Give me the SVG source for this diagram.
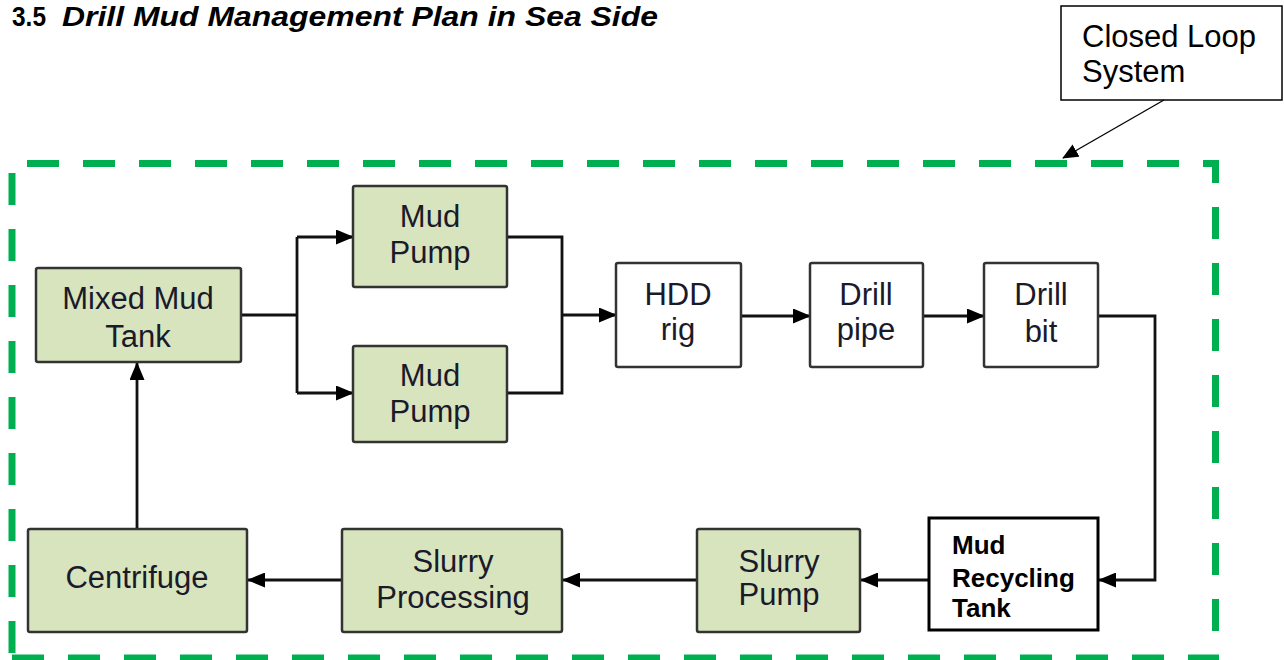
<svg xmlns="http://www.w3.org/2000/svg" width="1284" height="660" viewBox="0 0 1284 660">
  <style>
    .title { font-family: "Liberation Sans", Arial, sans-serif; font-weight: bold; font-size: 28px; fill: #000; }
    .proc { fill: #d7e4bd; stroke: #333; stroke-width: 2.5; }
    .plain { fill: #fff; stroke: #333; stroke-width: 2.5; }
    .lbl { font-family: "Liberation Sans", Arial, sans-serif; font-size: 31px; fill: #1a1a2a; text-anchor: middle; }
    .blbl { font-family: "Liberation Sans", Arial, sans-serif; font-size: 26px; font-weight: bold; fill: #000; }
    .note { font-family: "Liberation Sans", Arial, sans-serif; font-size: 31px; fill: #000; }
    .wire { fill: none; stroke: #111; stroke-width: 2.8; }
    .loop { fill: none; stroke: #00b050; stroke-width: 7; stroke-dasharray: 32 24; }
  </style>
  <defs>
    <marker id="head" markerUnits="userSpaceOnUse" markerWidth="18" markerHeight="15" refX="17" refY="7.5" orient="auto">
      <path d="M0,0 L18,7.5 L0,15 z" fill="#000"/>
    </marker>
    <marker id="thinHead" markerUnits="userSpaceOnUse" markerWidth="16" markerHeight="14" refX="15" refY="7" orient="auto">
      <path d="M0,0 L16,7 L0,14 z" fill="#000"/>
    </marker>
  </defs>

  <rect width="1284" height="660" fill="#fff"/>

  <!-- heading -->
  <text class="title" y="26"><tspan x="12" textLength="34" lengthAdjust="spacingAndGlyphs">3.5</tspan><tspan x="62" font-style="italic" textLength="596" lengthAdjust="spacingAndGlyphs">Drill Mud Management Plan in Sea Side</tspan></text>

  <!-- closed loop boundary -->
  <g id="loop-boundary">
    <line class="loop" x1="27" y1="163.5" x2="1219" y2="163.5"/>
    <line class="loop" x1="1215.5" y1="160" x2="1215.5" y2="660" stroke-dashoffset="9"/>
    <line class="loop" x1="12" y1="658" x2="1219" y2="658"/>
    <line class="loop" x1="12" y1="173" x2="12" y2="660"/>
  </g>

  <!-- callout -->
  <g id="closed-loop-note">
    <rect x="1061" y="6" width="221" height="94" fill="#fff" stroke="#000" stroke-width="1.5"/>
    <text class="note" x="1082" y="47">Closed Loop</text>
    <text class="note" x="1082" y="82">System</text>
    <line x1="1164" y1="100" x2="1063" y2="158" stroke="#000" stroke-width="1.3" marker-end="url(#thinHead)"/>
  </g>

  <!-- connectors -->
  <g id="connectors">
    <path class="wire" d="M241,315 H297"/>
    <path class="wire" d="M297,237 V393"/>
    <path class="wire" d="M297,237 H353" marker-end="url(#head)"/>
    <path class="wire" d="M297,393 H353" marker-end="url(#head)"/>
    <path class="wire" d="M507,237 H562 V393 H507"/>
    <path class="wire" d="M562,315 H616" marker-end="url(#head)"/>
    <path class="wire" d="M741,316 H810" marker-end="url(#head)"/>
    <path class="wire" d="M923,316 H984" marker-end="url(#head)"/>
    <path class="wire" d="M1098,316 H1155 V580 H1099" marker-end="url(#head)"/>
    <path class="wire" d="M929,580 H861" marker-end="url(#head)"/>
    <path class="wire" d="M697,580 H563" marker-end="url(#head)"/>
    <path class="wire" d="M342,580 H248" marker-end="url(#head)"/>
    <path class="wire" d="M137,529 V363" marker-end="url(#head)"/>
  </g>

  <!-- nodes -->
  <g id="mixed-mud-tank">
    <rect class="proc" x="36" y="268" width="205" height="94" rx="2"/>
    <text class="lbl" x="138" y="309">Mixed Mud</text>
    <text class="lbl" x="138" y="347">Tank</text>
  </g>
  <g id="mud-pump-1">
    <rect class="proc" x="353" y="186" width="154" height="101" rx="2"/>
    <text class="lbl" x="430" y="227">Mud</text>
    <text class="lbl" x="430" y="263">Pump</text>
  </g>
  <g id="mud-pump-2">
    <rect class="proc" x="353" y="346" width="154" height="96" rx="2"/>
    <text class="lbl" x="430" y="386">Mud</text>
    <text class="lbl" x="430" y="422">Pump</text>
  </g>
  <g id="hdd-rig">
    <rect class="plain" x="616" y="263" width="125" height="104" rx="2"/>
    <text class="lbl" x="678" y="305">HDD</text>
    <text class="lbl" x="678" y="340">rig</text>
  </g>
  <g id="drill-pipe">
    <rect class="plain" x="810" y="263" width="113" height="104" rx="2"/>
    <text class="lbl" x="866" y="305">Drill</text>
    <text class="lbl" x="866" y="340">pipe</text>
  </g>
  <g id="drill-bit">
    <rect class="plain" x="984" y="263" width="114" height="104" rx="2"/>
    <text class="lbl" x="1041" y="305">Drill</text>
    <text class="lbl" x="1041" y="342">bit</text>
  </g>
  <g id="mud-recycling-tank">
    <rect x="929" y="518" width="169" height="112" fill="#fff" stroke="#000" stroke-width="3"/>
    <text class="blbl" x="952" y="554">Mud</text>
    <text class="blbl" x="952" y="587">Recycling</text>
    <text class="blbl" x="952" y="617">Tank</text>
  </g>
  <g id="slurry-pump">
    <rect class="proc" x="697" y="529" width="163" height="103" rx="2"/>
    <text class="lbl" x="779" y="572">Slurry</text>
    <text class="lbl" x="779" y="605">Pump</text>
  </g>
  <g id="slurry-processing">
    <rect class="proc" x="342" y="529" width="220" height="103" rx="2"/>
    <text class="lbl" x="453" y="572">Slurry</text>
    <text class="lbl" x="453" y="608">Processing</text>
  </g>
  <g id="centrifuge">
    <rect class="proc" x="28" y="529" width="219" height="103" rx="2"/>
    <text class="lbl" x="137" y="588">Centrifuge</text>
  </g>
</svg>
